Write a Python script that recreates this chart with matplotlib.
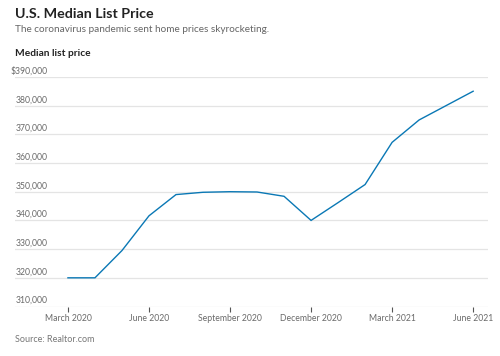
import matplotlib
matplotlib.use("Agg")
import matplotlib.pyplot as plt
import matplotlib.transforms as mtransforms

plt.rcParams['font.family'] = ['Lato', 'DejaVu Sans']

months = ["Mar 2020", "Apr 2020", "May 2020", "Jun 2020", "Jul 2020", "Aug 2020",
          "Sep 2020", "Oct 2020", "Nov 2020", "Dec 2020", "Jan 2021", "Feb 2021",
          "Mar 2021", "Apr 2021", "May 2021", "Jun 2021"]
prices = [320000, 320000, 329500, 341600, 349000, 349800, 350000, 349900,
          348400, 340000, 346200, 352500, 367200, 375000, 380000, 385000]
tick_months = [0, 3, 6, 9, 12, 15]
tick_labels = ["March 2020", "June 2020", "September 2020", "December 2020",
               "March 2021", "June 2021"]
y_ticks = [310000, 320000, 330000, 340000, 350000, 360000, 370000, 380000, 390000]
y_labels = ["310,000", "320,000", "330,000", "340,000", "350,000", "360,000",
            "370,000", "380,000", "$390,000"]

fig = plt.figure(figsize=(5, 3.56), dpi=100)
ax = fig.add_axes([0.03, 0.139, 0.946, 0.645])

x = list(range(len(months)))
ax.plot(x, prices, color="#0a78b5", linewidth=1.0, solid_joinstyle="miter", zorder=3)

ax.set_xlim(-1.96, 15.55)
ax.set_ylim(310000, 390000)

for v in y_ticks:
    ax.axhline(v, color="#e4e4e4", linewidth=0.9, zorder=1)

trans = mtransforms.blended_transform_factory(fig.transFigure, ax.transData)
off = mtransforms.offset_copy(trans, fig=fig, x=0, y=1.0, units='points')
for v, lab in zip(y_ticks, y_labels):
    ax.text(48 / 500, v, lab, transform=off, ha="right", va="bottom",
            fontsize=6.2, color="#6a6a6a")

ax.set_yticks([])
ax.set_xticks(tick_months)
ax.set_xticklabels(tick_labels, fontsize=6.2, color="#6a6a6a")
ax.tick_params(axis="x", length=3.5, width=0.8, color="#555555", pad=2)
for s in ["top", "right", "left", "bottom"]:
    ax.spines[s].set_visible(False)

fig.text(15 / 500, 1 - 14 / 356, "U.S. Median List Price", fontsize=10.3,
         fontweight="bold", color="#222222", va="center", ha="left")
fig.text(15 / 500, 1 - 30 / 356, "The coronavirus pandemic sent home prices skyrocketing.",
         fontsize=7.2, color="#666666", va="center", ha="left")
fig.text(15 / 500, 1 - 53 / 356, "Median list price", fontsize=7.3,
         fontweight="bold", color="#222222", va="center", ha="left")
fig.text(15 / 500, 1 - 339 / 356, "Source: Realtor.com", fontsize=6.5,
         color="#777777", va="center", ha="left")

fig.savefig("out.png", dpi=100, facecolor="white")
